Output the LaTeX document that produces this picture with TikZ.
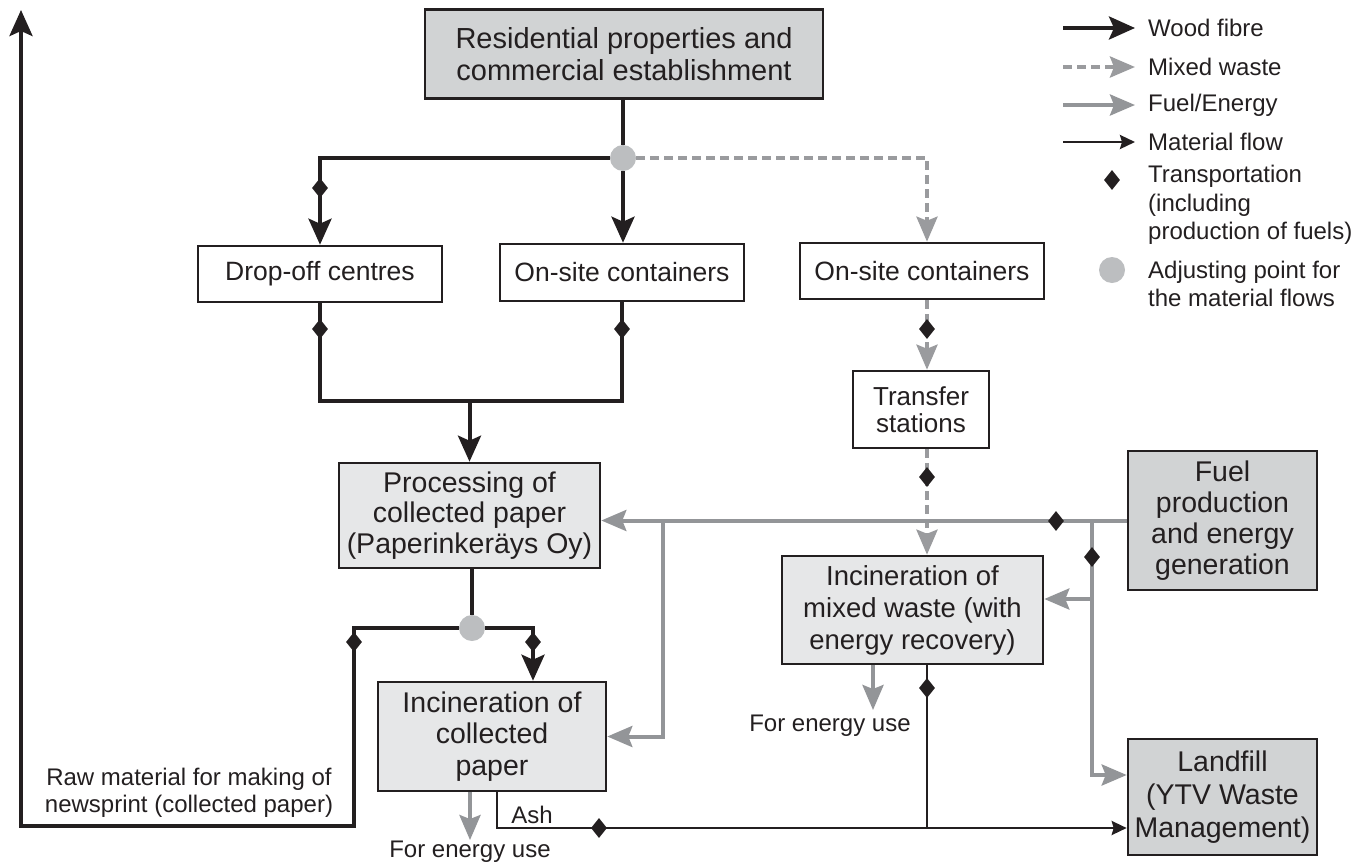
\documentclass[tikz,border=0pt]{standalone}
\usepackage{fontspec}
\setmainfont{Liberation Sans}
\usetikzlibrary{arrows.meta,shapes.geometric,calc}

\definecolor{ink}{HTML}{231F20}
\definecolor{fuelgray}{HTML}{939598}
\definecolor{mixgray}{HTML}{9A9B9E}
\definecolor{adjgray}{HTML}{BCBEC0}
\definecolor{darkfill}{HTML}{D1D3D4}
\definecolor{lightfill}{HTML}{E6E7E8}

\newcommand\fsz[2]{\fontsize{#1pt}{#2pt}\selectfont}

\pgfdeclarelayer{lines}
\pgfsetlayers{lines,main}

\tikzset{
  wtip/.tip={Stealth[length=26pt,width=23pt,inset=5pt]},
  gtip/.tip={Stealth[length=25pt,width=21pt,inset=4pt]},
  mtip/.tip={Stealth[length=15pt,width=14pt,inset=2pt]},
  box/.style={draw=ink, line width=2.6pt, align=center, inner sep=0pt, text=ink},
  wood/.style={draw=ink, line width=4pt},
  mix/.style={draw=mixgray, line width=4pt, dash pattern=on 9pt off 5pt},
  fuelln/.style={draw=fuelgray, line width=4pt},
  mat/.style={draw=ink, line width=2.6pt},
  tpt/.style={diamond, fill=ink, draw=none, inner sep=0pt, minimum width=16pt, minimum height=20pt},
  adj/.style={circle, fill=adjgray, draw=none, inner sep=0pt, minimum size=26pt},
  lbl/.style={inner sep=1pt, text=ink, font=\fsz{24}{27}, align=center},
  leg/.style={inner sep=0pt, text=ink, font=\fsz{24}{28.5}, align=left, anchor=west},
}

\begin{document}
\begin{tikzpicture}[x=1pt,y=-1pt]
\useasboundingbox (0,0) rectangle (1366,865);

% process boxes
\node[box, fill=darkfill, minimum width=398pt, minimum height=89pt, font=\fsz{29}{32}] (res) at (624,54)
  {Residential properties and\\commercial establishment};
\node[box, fill=white, minimum width=244pt, minimum height=56pt, font=\fsz{26.5}{28}] (drop) at (320,274)
  {Drop-off centres};
\node[box, fill=white, minimum width=244pt, minimum height=57pt, font=\fsz{26.5}{28}] (osc1) at (622,272.5)
  {On-site containers};
\node[box, fill=white, minimum width=244pt, minimum height=56pt, font=\fsz{26.5}{28}] (osc2) at (922,271)
  {On-site containers};
\node[box, fill=white, minimum width=136pt, minimum height=77pt, font=\fsz{26}{27}] (trans) at (921,409.5)
  {Transfer\\stations};
\node[box, fill=lightfill, minimum width=261pt, minimum height=105pt, font=\fsz{28.5}{30.5}] (proc) at (469.5,515.5)
  {Processing of\\collected paper\\(Paperinkeräys Oy)};
\node[box, fill=lightfill, minimum width=228pt, minimum height=109pt, font=\fsz{28.5}{31.5}] (inccp) at (492,736.5)
  {Incineration of\\collected\\paper};
\node[box, fill=lightfill, minimum width=261pt, minimum height=108pt, font=\fsz{27.5}{32}] (incmw) at (912.5,610)
  {Incineration of\\mixed waste (with\\energy recovery)};
\node[box, fill=darkfill, minimum width=189pt, minimum height=139pt, font=\fsz{28.5}{31}] (fuel) at (1222.5,520.5)
  {Fuel\\production\\and energy\\generation};
\node[box, fill=darkfill, minimum width=189pt, minimum height=116pt, font=\fsz{28.5}{33}] (land) at (1222.5,797)
  {Landfill\\(YTV Waste\\Management)};

% adjusting points
\node[adj] (c1) at (623,158) {};
\node[adj] (c2) at (472,628) {};

% transportation marks
\node[tpt] (d1) at (320,188) {};
\node[tpt] (d2) at (320,329) {};
\node[tpt] (d3) at (622,329) {};
\node[tpt] (d4) at (354,642) {};
\node[tpt] (d5) at (533,642) {};
\node[tpt] (d6) at (927,329) {};
\node[tpt] (d7) at (927,477) {};
\node[tpt] (d8) at (1056,521) {};
\node[tpt] (d9) at (1092,557) {};
\node[tpt] (d10) at (599,828) {};
\node[tpt] (d11) at (927,688) {};

% free labels
\node[lbl, font=\fsz{24}{27}] (raw) at (189,793) {Raw material for making of\\newsprint (collected paper)};
\node[lbl] (feu1) at (470,852) {For energy use};
\node[lbl] (feu2) at (830,726) {For energy use};
\node[lbl] (ash) at (532,815) {Ash};

% junctions and open ends
\coordinate (j1) at (469.5,401);
\coordinate (rawc) at (354,826);
\coordinate (rawtop) at (21,10);
\coordinate (b1) at (663,521);
\coordinate (b2) at (1092,521);
\coordinate (mwin) at ($(incmw.east)+(0,-11)$);
\coordinate (mwout) at (873,710);
\coordinate (ashc) at (497,828);

\begin{pgfonlayer}{lines}
  % wood fibre
  \draw[wood] (res.south -| c1) -- (c1);
  \draw[wood,-wtip] (c1) -| (drop);
  \draw[wood,-wtip] (c1) -- (c1 |- osc1.north);
  \draw[wood] (drop.south) |- (osc1 |- j1) -- (osc1.south);
  \draw[wood,-wtip] (j1) -- (proc);
  \draw[wood] (proc.south -| c2) -- (c2);
  \draw[wood,-wtip] (c2) -| (inccp.north -| d5);
  \draw[wood,-wtip] (c2) -| (rawc) -| (rawtop);
  % mixed waste
  \draw[mix,-gtip] (c1) -| (osc2.north -| d6);
  \draw[mix,-gtip] (osc2.south -| d6) -- (trans.north -| d6);
  \draw[mix,-gtip] (trans.south -| d7) -- (incmw.north -| d7);
  % fuel and energy
  \draw[fuelln,-gtip] (fuel.west) -- (fuel.west -| proc.east);
  \draw[fuelln,-gtip] (b1) |- (inccp.east);
  \draw[fuelln,-gtip] (b2) |- ($(land.west)+(0,-22)$);
  \draw[fuelln,-gtip] (b2 |- mwin) -- (mwin);
  \draw[fuelln,-gtip] (inccp.south -| feu1) -- (feu1.north);
  \draw[fuelln,-gtip] (incmw.south -| mwout) -- (mwout);
  % material flow
  \draw[mat,-mtip] (inccp.south -| ashc) |- ($(land.west)+(0,31)$);
  \draw[mat] (incmw.south -| d11) -- (d11 |- ashc);
\end{pgfonlayer}

% legend
\node[leg] (lt1) at (1148,28) {Wood fibre};
\node[leg] (lt2) at (1148,67) {Mixed waste};
\node[leg] (lt3) at (1148,105) {Fuel/Energy};
\node[leg] (lt4) at (1148,142) {Material flow};
\node[leg] (lt5) at (1148,205) {Transportation\\(including\\production of fuels)};
\node[leg] (lt6) at (1148,284) {Adjusting point for\\the material flows};
\draw[wood,-wtip] ($(lt1.west)+(-85,0)$) -- ($(lt1.west)+(-13,0)$);
\draw[mix,-gtip] ($(lt2.west)+(-85,0)$) -- ($(lt2.west)+(-13,0)$);
\draw[fuelln,-gtip] ($(lt3.west)+(-85,0)$) -- ($(lt3.west)+(-13,0)$);
\draw[mat,-mtip] ($(lt4.west)+(-85,0)$) -- ($(lt4.west)+(-13,0)$);
\node[tpt] (ld) at (1112,180) {};
\node[adj] (lc) at (1112,270) {};
\end{tikzpicture}
\end{document}
